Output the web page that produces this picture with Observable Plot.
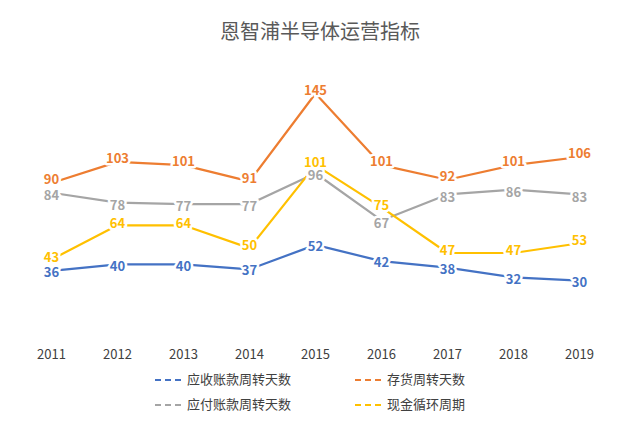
<!DOCTYPE html>
<html><head><meta charset="utf-8">
<script src="https://cdn.jsdelivr.net/npm/d3@7"></script>
<script src="https://cdn.jsdelivr.net/npm/@observablehq/plot@0.6"></script>
<style>
body{margin:0;background:#fff;font-family:"Noto Sans CJK SC","Noto Sans",sans-serif;}
#title{height:55px;line-height:62px;text-align:center;font-size:20px;color:#595959;}
.legend{display:grid;grid-template-columns:200px 200px;margin-left:155px;row-gap:6px;font-size:13px;color:#404040;margin-top:4px}
.legend span.sw{display:inline-block;width:26px;height:0;border-top:2.5px dashed;margin-right:6px;vertical-align:middle}
</style></head><body>
<div id="title">恩智浦半导体运营指标</div>
<div id="chart"></div>
<div class="legend" id="legend"></div>
<script>
const years = ["2011","2012","2013","2014","2015","2016","2017","2018","2019"];
const receivable = [36,40,40,37,52,42,38,32,30];
const inventory = [90,103,101,91,145,101,92,101,106];
const payable = [84,78,77,77,96,67,83,86,83];
const cashCycle = [43,64,64,50,101,75,47,47,53];
const seriesNames = ["应收账款周转天数","存货周转天数","应付账款周转天数","现金循环周期"];
const colors = ["#4472C4","#ED7D31","#A5A5A5","#FFC000"];
const all = [receivable, inventory, payable, cashCycle];
const data = [];
all.forEach((arr,i)=>arr.forEach((v,j)=>data.push({year:years[j],value:v,series:seriesNames[i]})));
const dys = {"应收账款周转天数":2,"存货周转天数":-3,"应付账款周转天数":3,"现金循环周期":-2};
const plot = Plot.plot({
  width:640,height:310,marginLeft:50,marginRight:60,marginTop:38,marginBottom:36,
  x:{type:"point",domain:years,padding:0,label:null,tickSize:0,tickPadding:20},
  y:{domain:[0,145],axis:null},
  color:{domain:seriesNames,range:colors},
  style:{fontSize:"13px",fontFamily:"Noto Sans CJK SC, sans-serif",color:"#404040"},
  marks:[
    Plot.line(data,{x:"year",y:"value",stroke:"series",strokeWidth:2.2}),
    ...seriesNames.map(s=>Plot.text(data.filter(d=>d.series===s),{x:"year",y:"value",dy:dys[s],text:d=>String(d.value),fill:"series",stroke:"white",strokeWidth:5,fontSize:13,fontWeight:"bold"}))
  ]
});
document.getElementById("chart").appendChild(plot);
const lg=document.getElementById("legend");
seriesNames.forEach((n,i)=>{const d=document.createElement("div");d.innerHTML=`<span class="sw" style="border-color:${colors[i]}"></span>${n}`;lg.appendChild(d);});
</script></body></html>
